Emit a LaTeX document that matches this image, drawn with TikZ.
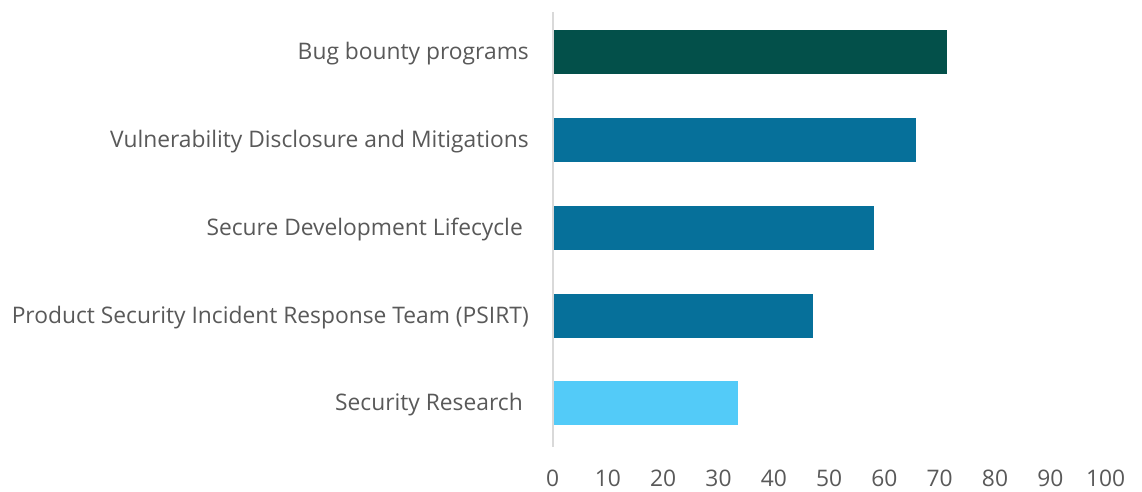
\documentclass[tikz,border=0pt]{standalone}
\usepackage{fontspec}
\setmainfont{Open Sans}
\definecolor{txt}{HTML}{595959}
\definecolor{axisc}{HTML}{D9D9D9}
\definecolor{darkteal}{HTML}{03504A}
\definecolor{midblue}{HTML}{06709A}
\definecolor{lightblue}{HTML}{53CBF8}
\tikzset{
  barbox/.style={fill=#1, draw=none},
  catlabel/.style={anchor=base east, inner sep=0pt, text=txt, font=\fontsize{22.8}{27}\selectfont},
  ticklabel/.style={anchor=base, inner sep=0pt, text=txt, font=\fontsize{22.8}{27}\selectfont},
}
\begin{document}
\begin{tikzpicture}[x=1pt,y=-1pt]
\useasboundingbox[fill=white] (0,0) rectangle (1142,492);
% bars
\def\xz{553.5}
\def\unit{5.53}
\fill[darkteal]  (\xz,30.5)  rectangle ({\xz+71.2*\unit},74.5);
\fill[midblue]   (\xz,118)   rectangle ({\xz+65.6*\unit},162);
\fill[midblue]   (\xz,206)   rectangle ({\xz+58.0*\unit},250);
\fill[midblue]   (\xz,294)   rectangle ({\xz+46.9*\unit},338);
\fill[lightblue] (\xz,381)   rectangle ({\xz+33.4*\unit},425);
% axis
\coordinate (axtop) at (552.6,12);
\coordinate (axbot) at (552.6,447);
\draw[axisc, line width=2pt] (axtop) -- (axbot);
% category labels
\node[catlabel] (l1) at (529,60) {Bug bounty programs};
\node[catlabel] (l2) at (529,147.5) {Vulnerability Disclosure and Mitigations};
\node[catlabel] (l3) at (523,235.5) {Secure Development Lifecycle};
\node[catlabel] (l4) at (529,323.5) {Product Security Incident Response Team (PSIRT)};
\node[catlabel] (l5) at (523,410.5) {Security Research};
% tick labels
\foreach \v [count=\i] in {0,10,...,100}{
  \node[ticklabel] (t\i) at ({552.6+\v*\unit},486.5) {\v};
}
\end{tikzpicture}
\end{document}
